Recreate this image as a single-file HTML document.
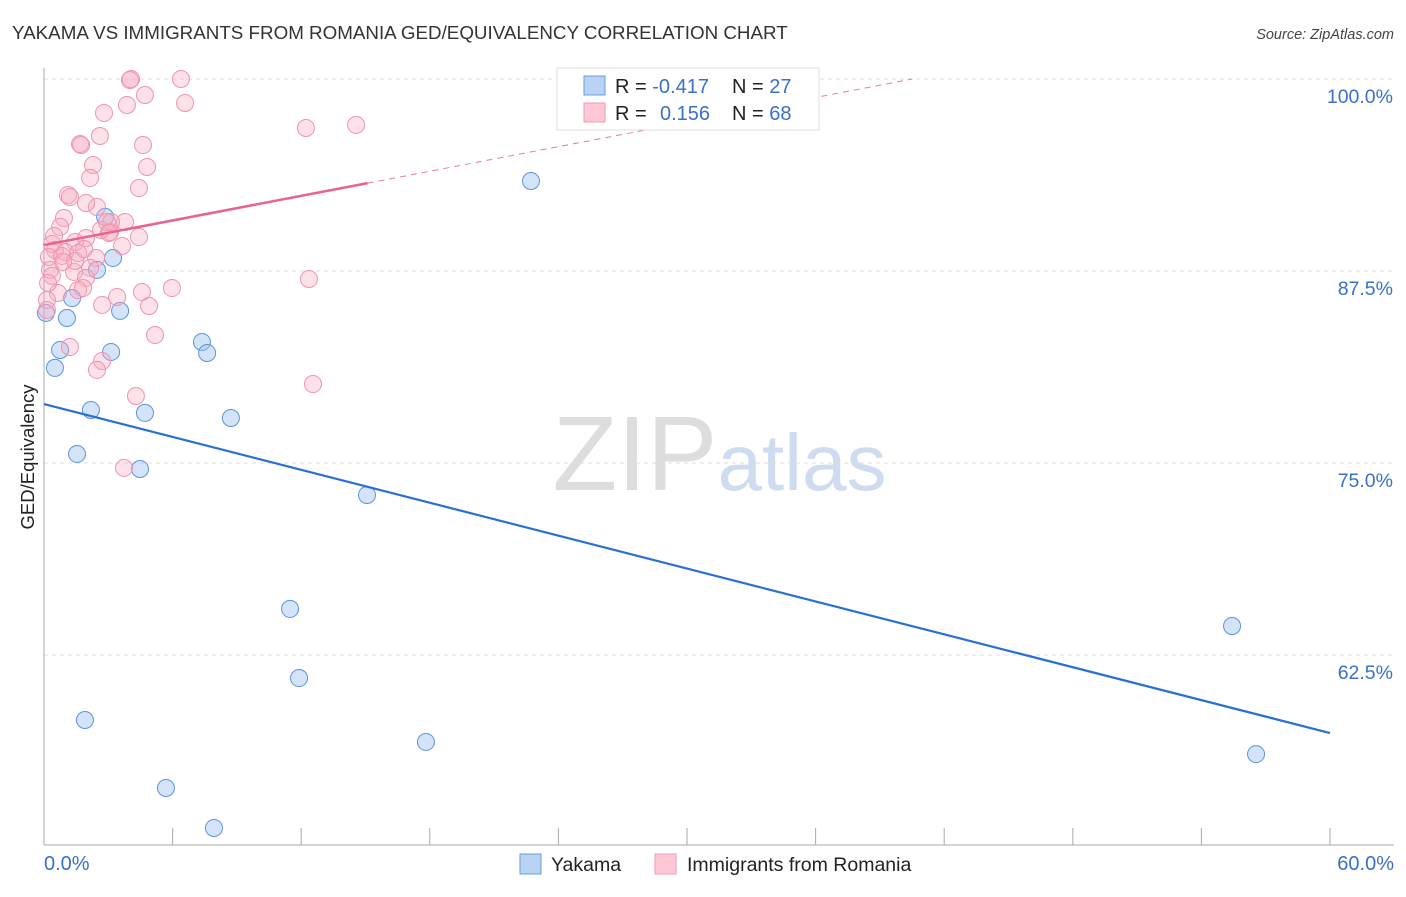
<!DOCTYPE html>
<html><head><meta charset="utf-8"><style>
body{margin:0;background:#fff;font-family:"Liberation Sans",sans-serif;}
svg text{font-family:"Liberation Sans",sans-serif;}
</style></head><body>
<svg id="chart" width="1406" height="892" xmlns="http://www.w3.org/2000/svg">
<text x="12" y="39" font-size="18.8" fill="#333">YAKAMA VS IMMIGRANTS FROM ROMANIA GED/EQUIVALENCY CORRELATION CHART</text>
<text x="1394" y="39" font-size="14.5" fill="#444" text-anchor="end" font-style="italic">Source: ZipAtlas.com</text>
<text transform="translate(34,457) rotate(-90)" font-size="18.5" fill="#222" text-anchor="middle">GED/Equivalency</text>
<g><text x="635" y="490" font-size="106" fill="#ddd" text-anchor="middle" font-family="Liberation Serif">ZIP</text><text x="802" y="490" font-size="80" fill="#cfdcf0" text-anchor="middle">atlas</text></g>
<g id="grid"></g><g id="axes"></g><g id="marks"></g>
<g>
<rect x="557" y="68" width="262" height="62" fill="#fff" stroke="#ddd"/>
<rect x="584" y="76" width="21" height="19" fill="#b9d3f5" stroke="#6a9de0"/>
<rect x="584" y="103" width="21" height="19" fill="#fcc8d6" stroke="#ef9ab3"/>
<text x="615" y="93" font-size="20" fill="#222">R = <tspan fill="#3a70c8">-0.417</tspan><tspan x="732">N = </tspan><tspan fill="#3a70c8">27</tspan></text>
<text x="615" y="120" font-size="20" fill="#222">R = <tspan x="660" fill="#3a70c8">0.156</tspan><tspan x="732">N = </tspan><tspan fill="#3a70c8">68</tspan></text>
</g>
<g>
<rect x="520" y="854" width="21" height="20" fill="#b9d3f5" stroke="#6a9de0"/>
<text x="551" y="871" font-size="19.5" fill="#222">Yakama</text>
<rect x="655" y="854" width="21" height="20" fill="#fcc8d6" stroke="#ef9ab3"/>
<text x="687" y="871" font-size="19.5" fill="#222">Immigrants from Romania</text>
</g>
</svg>
<script>
const yTicks=[100,87.5,75,62.5];
const yTickLabels=["100.0%","87.5%","75.0%","62.5%"];
const xTickVals=[0,6,12,18,24,30,36,42,48,54,60];
const blueX=[22.72,2.85,3.22,2.47,1.31,3.55,1.07,0.09,7.37,7.61,3.13,0.75,0.51,2.19,4.71,8.72,1.54,4.48,15.07,11.48,55.43,11.90,1.91,17.82,56.55,5.69,7.93];
const blueY=[93.36,91.02,88.35,87.57,85.74,84.90,84.44,84.77,82.88,82.16,82.23,82.36,81.19,78.45,78.26,77.93,75.59,74.61,72.92,65.50,64.39,61.00,58.27,56.84,56.05,53.84,51.24];
const pinkX=[4.06,4.01,6.39,4.71,3.87,6.58,2.80,2.61,1.68,1.73,4.62,4.81,2.29,2.15,4.43,1.12,1.21,12.22,14.56,2.47,1.96,3.78,3.13,0.93,2.66,0.75,1.45,3.08,4.43,0.47,0.37,1.96,0.51,0.98,3.64,0.23,0.84,1.59,2.43,0.28,2.15,1.40,1.96,0.37,12.36,0.65,1.59,5.97,0.14,4.57,3.41,2.71,4.90,0.14,5.18,1.21,2.71,2.47,4.29,12.55,3.73,1.45,0.89,2.94,1.87,0.19,1.82,3.03];
const pinkY=[100,99.93,100,98.96,98.31,98.44,97.79,96.29,95.77,95.70,95.70,94.27,94.40,93.56,92.90,92.45,92.32,96.81,97.01,91.67,91.93,90.69,90.69,90.95,90.17,90.37,89.39,90.04,89.71,89.78,89.26,89.65,88.87,88.74,89.13,88.41,88.48,88.67,88.35,87.57,87.70,87.44,87.05,87.18,86.98,86.07,86.26,86.39,85.61,86.13,85.81,85.29,85.22,84.96,83.33,82.55,81.64,81.06,79.36,80.14,74.68,88.15,88.09,90.69,88.93,86.72,86.39,89.97];
const blueTrend=[78.84,57.42];
const pinkTrend=[89.19,105.2];
const pinkSolidEnd=15.1;
const NS="http://www.w3.org/2000/svg";
const X=v=>44+v*(1286/60);
const Y=v=>79+(100-v)*(192/12.5);
function mk(p,t,a){const e=document.createElementNS(NS,t);for(const k in a)e.setAttribute(k,a[k]);p.appendChild(e);return e;}
const grid=document.getElementById('grid'),axes=document.getElementById('axes'),marks=document.getElementById('marks');
yTicks.forEach((t,i)=>{
 const l=mk(grid,'line',{x1:44,x2:1394,y1:Y(t),y2:Y(t),stroke:'#ddd','stroke-dasharray':'4,4'});
 
 
 const tx=mk(grid,'text',{x:1393,y:Y(t)+24,'font-size':19.5,fill:'#3a70c8','text-anchor':'end'});
 tx.textContent=yTickLabels[i];
 
 
});
const ax=mk(axes,'line',{x1:44,x2:44,y1:68,y2:845,stroke:'#aaa'});


const bx=mk(axes,'line',{x1:44,x2:1394,y1:845,y2:845,stroke:'#aaa'});


xTickVals.forEach(v=>{
 const t=mk(axes,'line',{x1:X(v),x2:X(v),y1:828,y2:845,stroke:'#aaa'});
 
 
});
[[0,'0.0%','start',44],[60,'60.0%','end',1394]].forEach(a=>{
 const t=mk(axes,'text',{x:a[3],y:870,'font-size':20,fill:'#3a70c8','text-anchor':a[2]});
 t.textContent=a[1];
 
 
});
blueX.forEach((x,i)=>{
 const c=mk(marks,'circle',{cx:X(x),cy:Y(blueY[i]),r:8.5,fill:'rgba(160,195,240,0.45)',stroke:'#5b93dd','stroke-width':1});
 
 
});
pinkX.forEach((x,i)=>{
 const c=mk(marks,'circle',{cx:X(x),cy:Y(pinkY[i]),r:8.5,fill:'rgba(246,170,192,0.35)',stroke:'#ee94af','stroke-width':1});
 
 
});
const slope=(pinkTrend[1]-pinkTrend[0])/60;
const pd=mk(marks,'line',{x1:X(pinkSolidEnd),y1:Y(pinkTrend[0]+slope*pinkSolidEnd),x2:X((100-pinkTrend[0])/slope),y2:Y(100),stroke:'#e87a9c','stroke-dasharray':'6,5'});


const ps=mk(marks,'line',{x1:X(0),y1:Y(pinkTrend[0]),x2:X(pinkSolidEnd),y2:Y(pinkTrend[0]+slope*pinkSolidEnd),stroke:'#e8638d','stroke-width':2.5});


const bl=mk(marks,'line',{x1:X(0),y1:Y(blueTrend[0]),x2:X(60),y2:Y(blueTrend[1]),stroke:'#2a6fd6','stroke-width':2.2});


</script>
</body></html>
